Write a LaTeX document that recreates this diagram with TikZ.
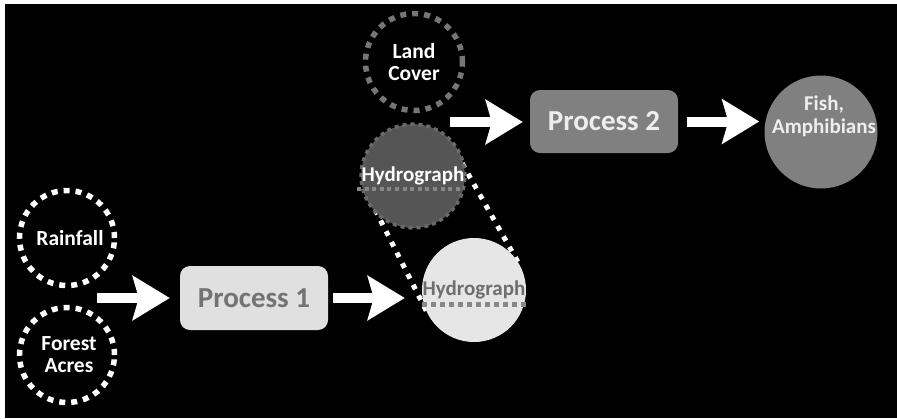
\documentclass[tikz,border=0pt]{standalone}
\usepackage{fontspec}
\setmainfont{Carlito}
\usetikzlibrary{arrows.meta,calc}

\definecolor{landdot}{HTML}{767676}
\definecolor{hdark}{HTML}{555555}
\definecolor{hdarkdot}{HTML}{6A6A6A}
\definecolor{hlight}{HTML}{E6E6E6}
\definecolor{htext}{HTML}{6E6E6E}
\definecolor{uline}{HTML}{888888}
\definecolor{pone}{HTML}{E0E0E0}
\definecolor{ponetext}{HTML}{737373}
\definecolor{ptwo}{HTML}{808080}
\definecolor{ptwotext}{HTML}{EEEEEE}

\tikzset{
  inputcirc/.style={circle, draw=white, line width=5.5pt, line cap=butt,
    dash pattern=on 6pt off 6pt, minimum size=95pt, inner sep=0pt,
    text=white, align=center, font=\bfseries\fontsize{21.5}{22}\selectfont},
  procbox/.style={rounded corners=10pt, minimum width=148pt, inner sep=0pt,
    font=\bfseries\fontsize{29}{31}\selectfont},
  bigarrow/.style={draw=white, line width=10pt,
    -{Stealth[length=37pt,width=44pt,inset=6pt]}},
  dotline/.style={line width=5pt, dash pattern=on 5pt off 4pt},
  tube/.style={draw=white, line width=5pt, dash pattern=on 5pt off 7pt}
}

\begin{document}
\begin{tikzpicture}[x=1pt,y=-1pt]
\useasboundingbox (0,0) rectangle (897,418);
\fill[white] (0,0) rectangle (897,418);
\fill[black] (5,4) rectangle (897,418);

% inputs
\node[inputcirc] (rain) at (67,238) {\hspace*{6pt}Rainfall};
\node[inputcirc] (forest) at (67,355) {\hspace*{4pt}Forest\\\hspace*{4pt}Acres};

% first process
\node[procbox, fill=pone, text=ponetext, minimum height=64pt] (p1) at (254,298) {Process 1};

% hydrograph centres (tube drawn first, behind both circles)
\coordinate (h2c) at (413,176);
\coordinate (h1c) at (474,290);
\draw[tube] ($(h2c)!49pt!90:(h1c)$) -- ($(h1c)!52pt!-90:(h2c)$);
\draw[tube] ($(h2c)!49pt!-90:(h1c)$) -- ($(h1c)!52pt!90:(h2c)$);

% output hydrograph of process 1
\node[circle, fill=hlight, minimum size=104pt, inner sep=0pt, text=htext,
  font=\bfseries\fontsize{21}{23}\selectfont] (h1) at (h1c) {Hydrograph};
\draw[dotline, draw=uline] ($(h1.center)+(-52,14)$) -- ($(h1.center)+(53,14)$);

% same hydrograph as input to process 2
\node[circle, fill=hdark, draw=hdarkdot, line width=3.5pt, dash pattern=on 4pt off 4pt,
  minimum size=97pt, inner sep=0pt, text=white,
  font=\bfseries\fontsize{21}{23}\selectfont] (h2) at (h2c) {Hydrograph};
\draw[line width=4pt, dash pattern=on 4pt off 3.6pt, draw=uline]
  ($(h2.center)+(-56,13)$) -- ($(h2.center)+(50,13)$);

\node[inputcirc, draw=landdot, minimum size=97pt] (land) at (414,62) {Land\\Cover};

% second process and result
\node[procbox, fill=ptwo, text=ptwotext, minimum height=63pt] (p2) at (604,121.5) {Process 2};
\node[circle, fill=ptwo, minimum size=113pt, inner sep=0pt] (fish) at (821,132) {};
\node[text=ptwotext, align=center, inner sep=0pt,
  font=\bfseries\fontsize{21}{23}\selectfont] (fishtext) at ($(fish.center)+(3,-16)$) {Fish,\\Amphibians};

% arrows
\coordinate (in1) at (97,298);
\coordinate (in2) at (450,122);
\draw[bigarrow, shorten >=10pt] (in1) -- (p1.west);
\draw[bigarrow, shorten <=5pt, shorten >=17pt] (p1.east) -- (p1.east -| h1.west);
\draw[bigarrow, shorten >=7pt] (in2) -- (in2 -| p2.west);
\draw[bigarrow, shorten <=9pt, shorten >=5pt] (p2.east) -- (p2.east -| fish.west);
\end{tikzpicture}
\end{document}
